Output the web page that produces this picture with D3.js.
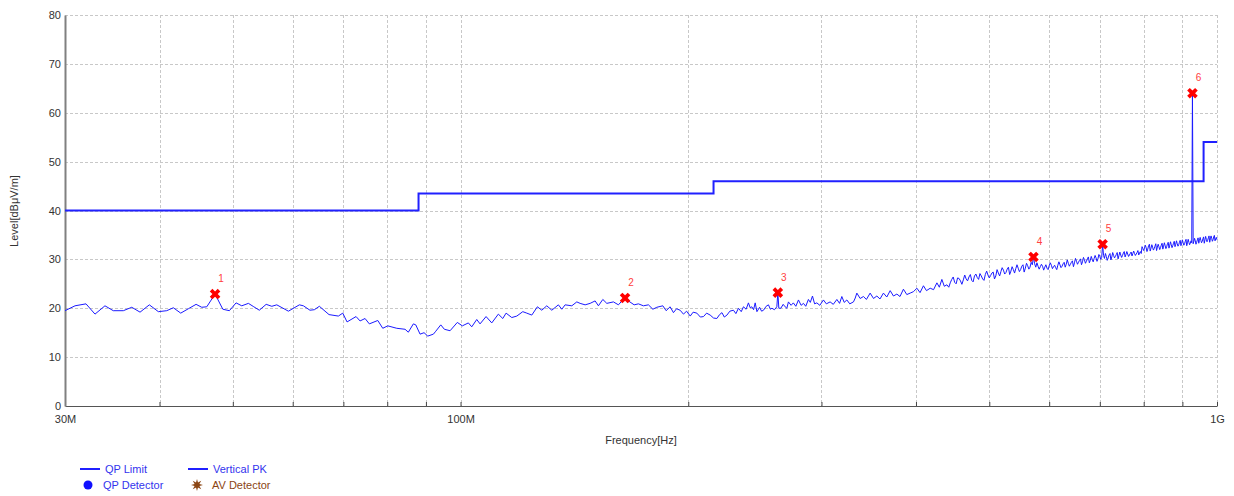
<!DOCTYPE html>
<html>
<head>
<meta charset="utf-8">
<script src="https://cdn.jsdelivr.net/npm/d3@7"></script>
<style>
body { margin: 0; background: #fff; }
text { font-family: "Liberation Sans", Arial, sans-serif; }
</style>
</head>
<body>
<svg id="chart" width="1234" height="496"></svg>
<script>
// level axis ticks (dBuV/m) and frequency grid (MHz)
var levelTicks = [0, 10, 20, 30, 40, 50, 60, 70, 80];
var freqGrid = [40, 50, 60, 70, 80, 90, 100, 200, 300, 400, 500, 600, 700, 800, 900, 1000];
var freqLabelValues = [30, 100, 1000];
var freqLabelText = ['30M', '100M', '1G'];

// QP limit: band edges (MHz) and level per band
var limitEdges = [30, 88, 216, 960, 1000];
var limitLevels = [40, 43.5, 46, 54];

// final measurement points
var markerFreq = [47.37, 165.0, 262.7, 572, 706, 928];
var markerLevel = [22.9, 22.1, 23.2, 30.5, 33.1, 64.0];
var markerName = ['1', '2', '3', '4', '5', '6'];

// vertical PK scan [MHz, dBuV/m]
var peakTrace = [
  [30.0,19.5],[30.93,20.5],[31.98,20.9],[32.87,18.8],[33.88,20.5],[34.75,19.5],[35.83,19.5],[36.76,20.2],
  [37.70,19.2],[38.78,20.7],[39.86,19.3],[40.89,19.5],[41.72,20.1],[42.67,19.0],[43.67,19.9],[44.71,20.8],
  [45.49,20.2],[46.19,20.3],[47.37,22.9],[48.50,19.8],[49.48,19.5],[50.50,21.1],[51.38,20.5],[52.43,21.0],
  [53.3,20.3],[54.20,19.6],[55.34,20.8],[56.30,20.4],[57.16,20.7],[59.22,19.4],[61.23,20.7],[61.98,20.5],
  [63.23,19.6],[64.09,19.7],[65.07,20.4],[67.01,18.7],[68.94,18.4],[69.87,19.0],[70.79,17.2],[72.76,18.3],
  [73.65,17.4],[74.78,17.9],[75.76,16.8],[77.73,17.5],[78.92,15.9],[80.13,16.4],[82.36,15.9],[84.46,15.7],
  [85.31,15.1],[86.62,16.8],[87.26,16.6],[88.41,14.7],[89.49,15.0],[90.51,14.3],[92.07,14.7],[92.74,15.3],
  [94.16,16.6],[95.20,15.7],[96.87,15.4],[99.02,17.1],[100.55,16.4],[102.41,17.0],[103.47,16.2],[105.06,17.7],
  [106.12,16.8],[108.08,18.3],[109.97,17.0],[112.20,18.8],[113.72,17.9],[114.87,19.0],[116.88,18.1],[118.68,18.4],
  [120.86,19.3],[122.34,19.0],[124.22,18.6],[126.35,20.3],[128.06,19.6],[130.02,20.5],[132.02,19.6],[134.70,20.7],
  [136.10,19.8],[137.48,20.7],[140.31,20.5],[142.46,21.3],[143.90,21.0],[146.11,20.7],[148.35,21.0],[150.63,21.5],
  [152.15,20.5],[154.20,21.8],[156.09,21.0],[159.26,21.3],[161.70,20.7],[163.88,21.7],[165.04,22.0],[166.70,21.5],
  [169.62,20.7],[171.85,20.9],[174.49,20.5],[177.17,20.7],[179.56,19.8],[181.76,20.2],[185.11,20.5],[186.98,19.5],
  [189.27,20.3],[191.18,19.1],[193.0,19.9],[195.1,19.6],[197.1,18.8],[199.0,19.4],[201.2,18.4],[203.0,19.2],
  [205.3,19.0],[207.5,18.2],[209.5,18.3],[211.5,19.0],[213.8,18.6],[216.0,18.0],[218.2,17.9],[220.0,18.7],
  [221.6,19.1],[223.2,18.2],[225.0,18.6],[227.0,19.4],[229.5,19.6],[231.2,18.9],[233.0,20.0],[235.0,19.3],
  [236.6,20.3],[238.5,19.8],[240.2,21.1],[241.5,20.1],[242.7,20.3],[244.0,19.7],[245.2,21.1],[246.5,19.3],
  [248.5,20.2],[250.0,19.4],[251.5,19.6],[253.5,20.4],[255.3,20.7],[256.8,19.8],[258.0,20.0],[260.0,19.7],
  [261.9,20.3],[262.7,23.2],[263.5,20.0],[265.1,20.0],[267.0,20.8],[268.6,20.3],[270.0,20.0],[271.3,21.3],
  [273.5,20.6],[275.4,21.1],[277.5,20.4],[279.7,21.7],[282.0,20.6],[284.0,21.0],[286.0,20.4],[288.3,21.8],
  [290.0,21.2],[291.9,22.5],[293.8,20.9],[295.8,21.1],[298.5,20.6],[301.8,21.7],[304.5,20.9],[308.0,21.3],
  [311.0,20.8],[314.4,21.8],[317.0,21.0],[319.2,22.4],[321.5,21.2],[324.1,21.7],[327.0,20.9],[330.7,21.3],
  [332.5,22.1],[334.1,23.1],[337.5,22.0],[340.9,22.4],[344.0,21.8],[347.9,23.1],[351.5,22.0],[355.1,22.5],
  [358.5,21.9],[362.3,23.1],[366.0,22.3],[369.8,23.6],[373.5,22.5],[377.4,22.9],[381.0,22.4],[385.0,23.9],
  [389.0,22.8],[393.0,23.1],[397.0,23.4],[401.1,24.1],[405.0,23.2],[409.2,24.6],[413.0,23.6],[417.7,24.1],
  [422.0,23.8],[426.3,25.2],[429.5,24.3],[432.8,25.9],[436.0,24.5],[439.5,24.8],[442.0,24.3],
  [444,25.2],[446,25.9],[448,26.4],[450,25.3],[452,25.0],[454,26.2],[456,26.1],[458,25.6],[460,24.9],[462,25.8],
  [464,26.8],[466,26.0],[468,25.6],[470,26.4],[472,26.9],[474,25.7],[476,25.4],[478,26.6],[480,27.0],[482,26.3],
  [484,25.9],[486,27.1],[488,26.6],[490,26.0],[492,25.7],[494,26.9],[496,27.6],[498,26.8],[500,26.2],[502,26.7],
  [504,27.2],[506,27.4],[508,26.0],[510,26.6],[512,27.9],[514,27.2],[516,26.6],[518,27.5],[520,28.3],[522,27.8],
  [524,27.0],[526,27.3],[528,28.0],[530,28.4],[532,26.9],[534,27.6],[536,28.5],[538,27.9],[540,27.2],[542,28.1],
  [544,28.9],[546,28.2],[548,27.5],[550,27.9],[552,28.6],[554,28.9],[556,27.4],[558,28.2],[560,29.2],[562,28.7],
  [564,28.0],[566,28.4],[568,29.4],[570,28.9],[572,30.5],[574,29.1],[576,28.4],[578,29.3],[580,28.6],[582,28.0],
  [584,28.5],[586,29.0],[588,28.6],[590,27.8],[592,28.4],[594,28.9],[596,28.2],[598,27.9],[600,28.7],[602,29.3],
  [604,28.8],[606,28.1],[608,28.5],[610,28.8],[612,28.3],[614,27.9],[616,28.8],[618,29.5],[620,28.9],[622,28.3],
  [624,28.6],[626,29.1],[628,29.4],[630,28.4],[632,29.0],[634,29.9],[636,29.2],[638,28.6],[640,29.0],[642,29.4],
  [644,29.7],[646,28.5],[648,29.3],[650,30.2],[652,29.6],[654,29.0],[656,29.4],[658,29.8],[660,30.1],[662,28.9],
  [664,29.5],[666,30.4],[668,29.9],[670,29.2],[672,29.6],[674,30.1],[676,30.5],[678,29.3],[680,29.8],[682,30.6],
  [684,30.0],[686,29.5],[688,30.2],[690,30.8],[692,30.3],[694,29.6],[696,30.1],[698,31.0],[700,30.6],[702,30.0],
  [704,30.4],[706,33.1],[708,30.8],[710,30.2],[712,31.2],[714,30.6],[716,29.8],[718,30.3],[720,30.9],[722,31.2],
  [724,29.9],[726,30.5],[728,31.4],[730,30.8],[732,30.3],[734,30.6],[736,31.0],[738,31.4],[740,30.1],[742,30.8],
  [744,31.5],[746,30.9],[748,30.4],[750,30.8],[752,31.3],[754,31.6],[756,30.5],[758,31.0],[760,31.6],[762,31.1],
  [764,30.6],[766,30.9],[768,31.2],[770,31.5],[772,30.7],[774,31.2],[776,31.7],[778,31.2],[780,30.8],[782,31.1],
  [784,31.4],[786,31.8],[788,30.9],[790,31.3],[792,31.6],[794,31.2],[796,32.6],[798,32.2],[800,31.8],[802,32.3],
  [804,32.9],[806,32.4],[808,31.6],[810,32.1],[812,32.8],[814,33.1],[816,31.7],[818,32.3],[820,33.0],[822,32.5],
  [824,31.9],[826,32.2],[828,32.7],[830,33.2],[832,31.8],[834,32.5],[836,33.1],[838,32.6],[840,32.0],[842,32.4],
  [844,32.9],[846,33.3],[848,32.1],[850,32.7],[852,33.4],[854,32.8],[856,32.2],[858,32.6],[860,33.2],[862,33.5],
  [864,32.3],[866,32.9],[868,33.6],[870,33.0],[872,32.4],[874,32.8],[876,33.3],[878,33.7],[880,32.6],[882,33.1],
  [884,33.8],[886,33.2],[888,32.7],[890,33.0],[892,33.5],[894,33.9],[896,32.8],[898,33.3],[900,34.0],[902,33.4],
  [904,32.9],[906,33.2],[908,33.7],[910,34.1],[912,32.8],[914,33.4],[916,34.1],[918,33.5],[920,33.0],[922,33.3],
  [924,33.8],[926,33.4],[928,64.0],[930,33.2],[932,33.7],[934,34.3],[936,33.8],[938,33.1],[940,33.5],[942,34.0],
  [944,34.4],[946,33.3],[948,33.9],[950,34.5],[952,33.9],[954,33.4],[956,33.7],[958,34.2],[960,34.6],[962,33.3],
  [964,34.0],[966,34.7],[968,34.1],[970,33.6],[972,33.9],[974,34.4],[976,34.8],[978,33.5],[980,34.2],[982,34.8],
  [984,34.3],[986,33.7],[988,34.0],[990,34.6],[992,34.9],[994,33.8],[996,34.2],[998,34.5],[1000,34.0]
];

var svg = d3.select('#chart');
var plotLeft = 65, plotRight = 1217, plotTop = 15, plotBottom = 406;

var x = d3.scaleLog().domain([30, 1000]).range([plotLeft, plotRight]);
var y = d3.scaleLinear().domain([0, 80]).range([plotBottom, plotTop]);

// grid
var grid = svg.append('g')
    .attr('stroke', '#c8c8c8')
    .attr('stroke-dasharray', '3,2')
    .attr('shape-rendering', 'crispEdges');
grid.selectAll('.hg').data(levelTicks.slice(1)).join('line')
    .attr('x1', plotLeft).attr('x2', plotRight)
    .attr('y1', function(d) { return Math.round(y(d)) + 0.5; })
    .attr('y2', function(d) { return Math.round(y(d)) + 0.5; });
grid.selectAll('.vg').data(freqGrid).join('line')
    .attr('y1', plotTop).attr('y2', plotBottom)
    .attr('x1', function(d) { return Math.round(x(d)) + 0.5; })
    .attr('x2', function(d) { return Math.round(x(d)) + 0.5; });

// bottom axis, ticks pointing up
var xAxis = d3.axisBottom(x)
    .tickValues([30].concat(freqGrid))
    .tickSizeInner(-4).tickSizeOuter(0).tickPadding(9)
    .tickFormat(function(d) {
        var i = freqLabelValues.indexOf(d);
        return i >= 0 ? freqLabelText[i] : '';
    });
var gx = svg.append('g').attr('transform', 'translate(0,' + plotBottom + ')').call(xAxis);
gx.select('.domain').attr('stroke', '#555');
gx.selectAll('.tick line').attr('stroke', '#444');
gx.selectAll('text').attr('font-size', 11).attr('fill', '#333')
    .attr('font-family', '"Liberation Sans", Arial, sans-serif');

var yAxis = d3.axisLeft(y).tickValues(levelTicks).tickSize(0).tickPadding(4);
var gy = svg.append('g').attr('transform', 'translate(' + plotLeft + ',0)').call(yAxis);
gy.select('.domain').attr('stroke', '#808080').attr('stroke-width', 2);
gy.selectAll('text').attr('font-size', 11).attr('fill', '#333')
    .attr('font-family', '"Liberation Sans", Arial, sans-serif');

// axis titles
svg.append('text')
    .attr('x', 641).attr('y', 444)
    .attr('text-anchor', 'middle').attr('font-size', 11).attr('fill', '#333')
    .text('Frequency[Hz]');
svg.append('text')
    .attr('transform', 'translate(18,211) rotate(-90)')
    .attr('text-anchor', 'middle').attr('font-size', 11).attr('fill', '#333')
    .text('Level[dBμV/m]');

// limit line as steps
var limitPts = limitLevels.map(function(v, i) { return [limitEdges[i], v]; });
limitPts.push([limitEdges[limitEdges.length - 1], limitLevels[limitLevels.length - 1]]);
var stepLine = d3.line()
    .x(function(d) { return x(d[0]); })
    .y(function(d) { return y(d[1]); })
    .curve(d3.curveStepAfter);
svg.append('path')
    .attr('d', stepLine(limitPts))
    .attr('fill', 'none').attr('stroke', '#2020ff').attr('stroke-width', 2);

// scan trace
var traceLine = d3.line()
    .x(function(d) { return x(d[0]); })
    .y(function(d) { return y(d[1]); });
svg.append('path')
    .attr('d', traceLine(peakTrace))
    .attr('fill', 'none').attr('stroke', '#1a1aff').attr('stroke-width', 1);

// markers
var cross = d3.symbol().type(d3.symbolCross).size(70);
var mk = svg.append('g').selectAll('g').data(markerFreq).join('g')
    .attr('transform', function(d, i) {
        return 'translate(' + x(d) + ',' + y(markerLevel[i]) + ')';
    });
mk.append('path').attr('d', cross).attr('transform', 'rotate(45)').attr('fill', '#ff0000');
mk.append('text')
    .attr('x', 6).attr('y', -12)
    .attr('text-anchor', 'middle').attr('font-size', 10).attr('fill', '#ff4040')
    .text(function(d, i) { return markerName[i]; });

// legend
var legend = svg.append('g').attr('font-size', 11);
legend.append('line').attr('x1', 80).attr('x2', 100).attr('y1', 469).attr('y2', 469)
    .attr('stroke', '#2020ff').attr('stroke-width', 2);
legend.append('text').attr('x', 105).attr('y', 473).attr('fill', '#3333ee').text('QP Limit');
legend.append('line').attr('x1', 188).attr('x2', 208).attr('y1', 469).attr('y2', 469)
    .attr('stroke', '#2020ff').attr('stroke-width', 2);
legend.append('text').attr('x', 213).attr('y', 473).attr('fill', '#3333ee').text('Vertical PK');
legend.append('circle').attr('cx', 88).attr('cy', 485).attr('r', 4.5).attr('fill', '#1010ff');
legend.append('text').attr('x', 103).attr('y', 489).attr('fill', '#3333ee').text('QP Detector');

var burst = [];
for (var k = 0; k < 16; k++) {
    var r = k % 2 === 0 ? 6 : 2.6;
    var a = k * Math.PI / 8;
    burst.push([r * Math.sin(a), -r * Math.cos(a)]);
}
legend.append('path')
    .attr('d', 'M' + burst.join('L') + 'Z')
    .attr('transform', 'translate(197,485)')
    .attr('fill', '#8b4513');
legend.append('text').attr('x', 212).attr('y', 489).attr('fill', '#8b4513').text('AV Detector');
</script>
</body>
</html>
